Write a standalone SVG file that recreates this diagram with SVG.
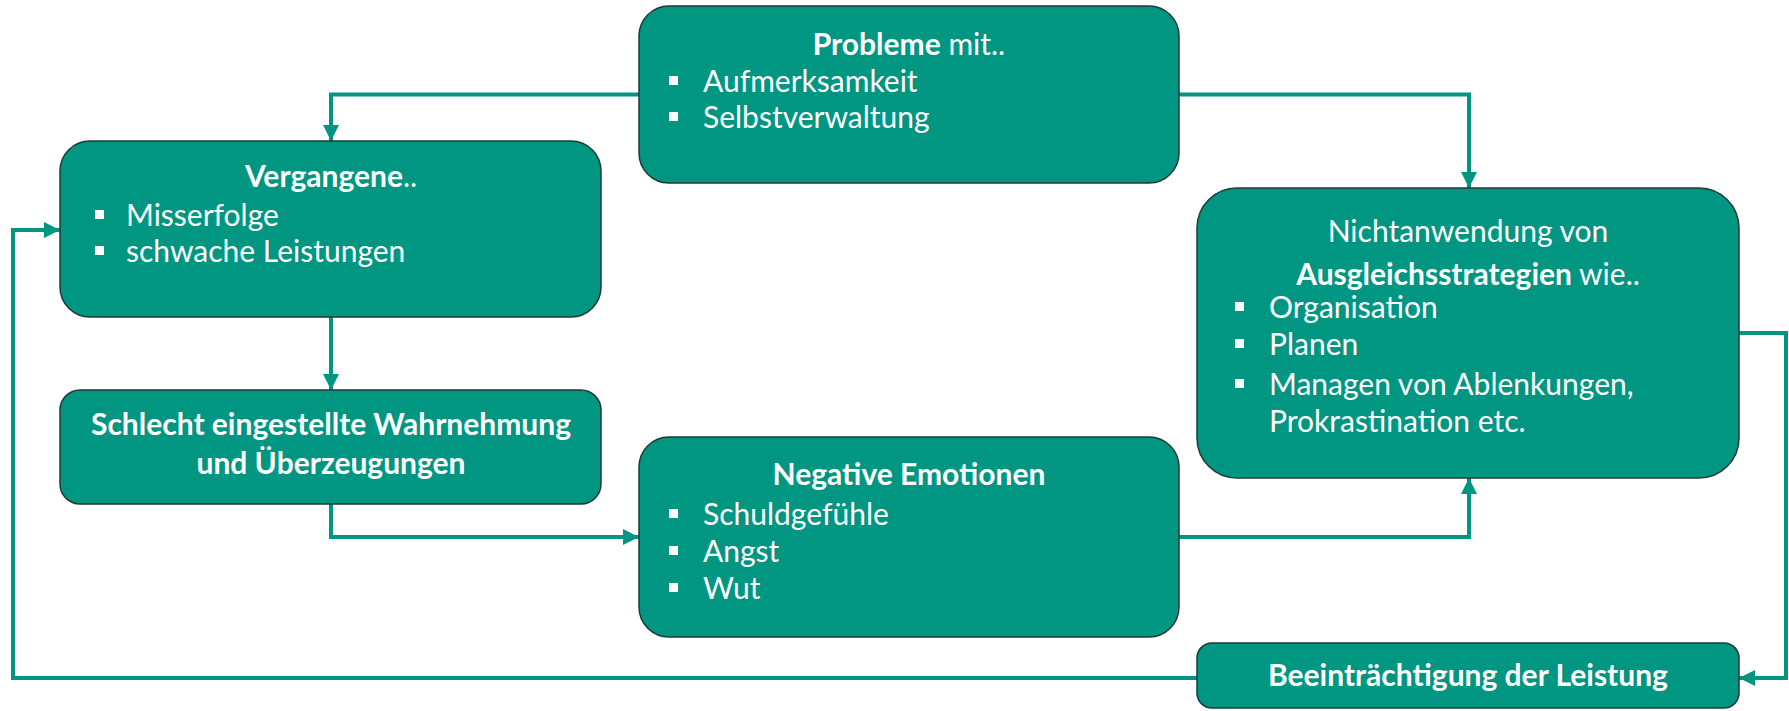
<svg xmlns="http://www.w3.org/2000/svg" width="1789" height="711" viewBox="0 0 1789 711">
<defs>
<style>
.box{fill:#009682;stroke:#1f3a34;stroke-width:1.5}
.t{font-family:Lato,"Liberation Sans",sans-serif;font-size:30px;fill:#ffffff}
.b{font-weight:bold}
.c{text-anchor:middle}
.blt{fill:#ffffff}
.con{fill:none;stroke:#009682;stroke-width:4}
</style>
<marker id="ah" viewBox="0 0 10 10" refX="10" refY="5" markerWidth="4" markerHeight="4" orient="auto" markerUnits="strokeWidth">
<path d="M0,0 L10,5 L0,10 Z" fill="#009682"/>
</marker>
</defs>
<rect width="1789" height="711" fill="#ffffff"/>
<g id="connectors">
<path class="con" d="M639,94.5 H331 V141" marker-end="url(#ah)"/>
<path class="con" d="M1179,94.5 H1469 V188" marker-end="url(#ah)"/>
<path class="con" d="M331,317 V390" marker-end="url(#ah)"/>
<path class="con" d="M331,504 V537 H639" marker-end="url(#ah)"/>
<path class="con" d="M1179,537 H1469 V478" marker-end="url(#ah)"/>
<path class="con" d="M1739,333 H1786 V678 H1739" marker-end="url(#ah)"/>
<path class="con" d="M1197,678 H13 V230 H60" marker-end="url(#ah)"/>
</g>
<g id="probleme">
<rect class="box" x="639" y="6" width="540" height="177" rx="30"/>
<text class="t c" x="909" y="55"><tspan class="b">Probleme</tspan> mit..</text>
<rect class="blt" x="669" y="76" width="9" height="9"/>
<text class="t" x="703" y="92">Aufmerksamkeit</text>
<rect class="blt" x="669" y="112" width="9" height="9"/>
<text class="t" x="703" y="128">Selbstverwaltung</text>
</g>
<g id="vergangene">
<rect class="box" x="60" y="141" width="541" height="176" rx="30"/>
<text class="t c" x="331" y="187"><tspan class="b">Vergangene</tspan>..</text>
<rect class="blt" x="95" y="210" width="9" height="9"/>
<text class="t" x="126" y="226">Misserfolge</text>
<rect class="blt" x="95" y="246" width="9" height="9"/>
<text class="t" x="126" y="262">schwache Leistungen</text>
</g>
<g id="wahrnehmung">
<rect class="box" x="60" y="390" width="541" height="114" rx="20"/>
<text class="t c b" x="331" y="435">Schlecht eingestellte Wahrnehmung</text>
<text class="t c b" x="331" y="474">und Überzeugungen</text>
</g>
<g id="emotionen">
<rect class="box" x="639" y="437" width="540" height="200" rx="30"/>
<text class="t c b" x="909" y="485">Negative Emotionen</text>
<rect class="blt" x="669" y="509" width="9" height="9"/>
<text class="t" x="703" y="525">Schuldgefühle</text>
<rect class="blt" x="669" y="546" width="9" height="9"/>
<text class="t" x="703" y="562">Angst</text>
<rect class="blt" x="669" y="583" width="9" height="9"/>
<text class="t" x="703" y="599">Wut</text>
</g>
<g id="nichtanwendung">
<rect class="box" x="1197" y="188" width="542" height="290" rx="40"/>
<text class="t c" x="1468" y="242">Nichtanwendung von</text>
<text class="t c" x="1468" y="285"><tspan class="b">Ausgleichsstrategien</tspan> wie..</text>
<rect class="blt" x="1235" y="302" width="9" height="9"/>
<text class="t" x="1269" y="318">Organisation</text>
<rect class="blt" x="1235" y="339" width="9" height="9"/>
<text class="t" x="1269" y="355">Planen</text>
<rect class="blt" x="1235" y="379" width="9" height="9"/>
<text class="t" x="1269" y="395">Managen von Ablenkungen,</text>
<text class="t" x="1269" y="432">Prokrastination etc.</text>
</g>
<g id="beeintraechtigung">
<rect class="box" x="1197" y="643" width="542" height="65" rx="15"/>
<text class="t c b" x="1468" y="686">Beeinträchtigung der Leistung</text>
</g>
</svg>
